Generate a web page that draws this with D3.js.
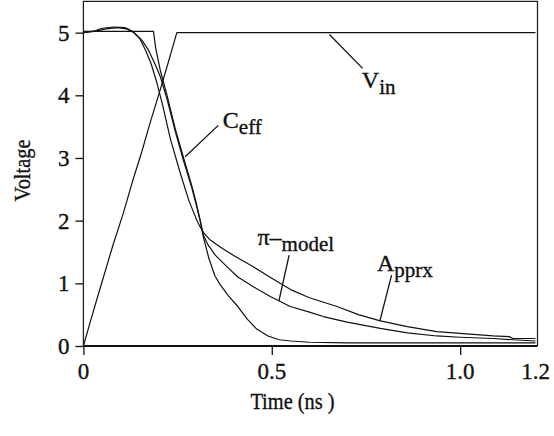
<!DOCTYPE html>
<html lang="en">
<head>
<meta charset="UTF-8">
<title>Voltage vs time</title>
<script src="https://d3js.org/d3.v7.min.js"></script>
<style>
    body { margin: 0; background: #fff; }
    svg { display: block; }
    text { font-family: "Liberation Serif", "Times New Roman", serif; fill: #111; stroke: #111; stroke-width: 0.35; }
    .curve { fill: none; stroke: #111; stroke-width: 1.2; stroke-linejoin: round; }
    .leader { stroke: #111; stroke-width: 1.3; }
</style>
</head>
<body>
<svg id="chart" width="554" height="436"></svg>
<script>
// values, [time (ns), voltage]
const vin = [[0, 0], [0.018, 0.38], [0.035, 0.73], [0.079, 1.62], [0.106, 2.12], [0.13, 2.62],
    [0.155, 3.1], [0.177, 3.56], [0.203, 4.07], [0.225, 4.52], [0.248, 5.0], [1.2, 5.0]];

const apprx = [[0, 5.0], [0.03, 5.03], [0.05, 5.07], [0.08, 5.09], [0.11, 5.08], [0.13, 5.02],
    [0.15, 4.9], [0.165, 4.72], [0.18, 4.5], [0.195, 4.2], [0.21, 3.85], [0.231, 3.3], [0.257, 2.76],
    [0.28, 2.32], [0.30, 2.02], [0.31, 1.9], [0.32, 1.8], [0.335, 1.7], [0.363, 1.58], [0.40, 1.44],
    [0.452, 1.26], [0.50, 1.08], [0.55, 0.9], [0.6, 0.77], [0.673, 0.63], [0.73, 0.5], [0.788, 0.40],
    [0.86, 0.31], [0.938, 0.23], [1.0, 0.2], [1.088, 0.16], [1.13, 0.15], [1.14, 0.12], [1.2, 0.12]];

const piModel = [[0, 5.0], [0.03, 5.02], [0.06, 5.06], [0.09, 5.08], [0.115, 5.06], [0.135, 5.0],
    [0.155, 4.88], [0.173, 4.72], [0.19, 4.5], [0.204, 4.3], [0.222, 3.94], [0.244, 3.42], [0.266, 2.95],
    [0.288, 2.52], [0.30, 2.24], [0.31, 2.0], [0.318, 1.78], [0.33, 1.62], [0.35, 1.45], [0.38, 1.27],
    [0.41, 1.1], [0.45, 0.95], [0.496, 0.79], [0.549, 0.63], [0.6, 0.54], [0.637, 0.47], [0.7, 0.38],
    [0.788, 0.28], [0.86, 0.21], [0.938, 0.16], [1.0, 0.14], [1.088, 0.12], [1.14, 0.1], [1.2, 0.08]];

const ceff = [[0, 5.02], [0.186, 5.02], [0.192, 4.75], [0.204, 4.4], [0.222, 4.0], [0.244, 3.46],
    [0.266, 3.0], [0.288, 2.55], [0.30, 2.27], [0.31, 2.0], [0.318, 1.75], [0.333, 1.4], [0.349, 1.12],
    [0.363, 0.98], [0.385, 0.8], [0.41, 0.63], [0.435, 0.43], [0.46, 0.27], [0.49, 0.16], [0.52, 0.1],
    [0.55, 0.08], [0.6, 0.06], [0.7, 0.05], [1.2, 0.05]];

const yTicks = [0, 1, 2, 3, 4, 5];
const xTicks = [0, 0.5, 1.0];
const xTickLabels = ["0", "0.5", "1.0", "1.2"];
const xLabelValues = [0, 0.5, 1.0, 1.2];

// curve labels: main text, subscript, anchor and leader line in data units
const labels = [
    { main: "V", sub: "in", at: [0.739, 4.11], line: [[0.653, 4.97], [0.741, 4.43]] },
    { main: "C", sub: "eff", at: [0.370, 3.48], line: [[0.358, 3.52], [0.270, 3.02]] },
    { main: "π–", sub: "model", at: [0.462, 1.61], line: [[0.546, 1.45], [0.519, 0.72]] },
    { main: "A", sub: "pprx", at: [0.779, 1.195], line: [[0.818, 1.13], [0.787, 0.40]] }
];

const svg = d3.select("#chart");
const x = d3.scaleLinear().domain([0, 1.2]).range([83.4, 535.5]);
const y = d3.scaleLinear().domain([0, 5.5]).range([346, 1.3]);

// frame
svg.append("path")
    .attr("d", `M${x(0)},${y(0)} V${y(5.5)} H${x(1.2) + 2} V${y(0)}`)
    .attr("fill", "none").attr("stroke", "#222").attr("stroke-width", 1.3);

// axes
const yAxis = svg.append("g").attr("transform", `translate(${x(0)},0)`)
    .call(d3.axisLeft(y).tickValues(yTicks).tickSize(8).tickPadding(6).tickFormat(d3.format("d")));
const xAxis = svg.append("g").attr("transform", `translate(0,${y(0)})`)
    .call(d3.axisBottom(x).tickValues(xTicks).tickSize(9).tickFormat(""));
[yAxis, xAxis].forEach(a => {
    a.select(".domain").remove();
    a.selectAll("line").attr("stroke", "#111").attr("stroke-width", 1.3);
    a.selectAll("text").style("font-size", "23px").attr("fill", "#111");
});
svg.append("line").attr("x1", x(0)).attr("x2", x(1.2) + 2)
    .attr("y1", y(0)).attr("y2", y(0)).attr("stroke", "#111").attr("stroke-width", 2);

svg.append("g").selectAll("text").data(xLabelValues).enter().append("text")
    .attr("x", d => x(d)).attr("y", 379)
    .attr("text-anchor", "middle").style("font-size", "23px")
    .text((d, i) => xTickLabels[i]);

// axis titles
svg.append("text")
    .attr("transform", "translate(292.5,408.6) scale(0.85,1)")
    .attr("text-anchor", "middle").style("font-size", "24px").text("Time (ns )");
svg.append("text")
    .attr("transform", "translate(30,170.5) rotate(-90) scale(0.85,1)")
    .attr("text-anchor", "middle").style("font-size", "24px").text("Voltage");

// curves
const line = d3.line().x(d => x(d[0])).y(d => y(d[1]));
[vin, apprx, piModel, ceff].forEach(s => {
    svg.append("path").attr("class", "curve").attr("d", line(s));
});

// curve labels
labels.forEach(l => {
    svg.append("line").attr("class", "leader")
        .attr("x1", x(l.line[0][0])).attr("y1", y(l.line[0][1]))
        .attr("x2", x(l.line[1][0])).attr("y2", y(l.line[1][1]));
    const t = svg.append("text").attr("x", x(l.at[0])).attr("y", y(l.at[1]))
        .style("font-size", "24px");
    t.append("tspan").text(l.main);
    t.append("tspan").attr("dy", 6).style("font-size", "21px").text(l.sub);
});
</script>
</body>
</html>
